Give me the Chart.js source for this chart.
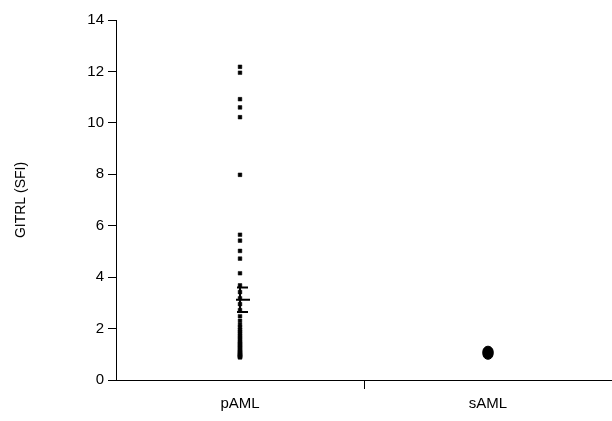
<!DOCTYPE html>
<html>
<head>
<meta charset="utf-8">
<script src="https://cdn.jsdelivr.net/npm/chart.js@4/dist/chart.umd.min.js"></script>
<style>
  html, body { margin: 0; padding: 0; background: #fff; }
  #wrap { width: 612px; height: 421px; }
</style>
</head>
<body>
<div id="wrap"><canvas id="gitrlGraph" width="612" height="421"></canvas></div>
<script>
// grupos
var categorias = ['pAML', 'sAML'];

// valores GITRL (SFI)
var valoresPAML = [12.18, 11.95, 10.92, 10.6, 10.22, 7.98, 5.65, 5.42, 5.02, 4.72, 4.15,
  3.68, 3.42, 3.18, 2.95, 2.72, 2.48, 2.3, 2.15, 2.05, 1.95, 1.88, 1.8, 1.72, 1.65,
  1.58, 1.5, 1.45, 1.4, 1.35, 1.3, 1.25, 1.2, 1.15, 1.1, 1.07, 1.04, 1.0, 0.97,
  0.94, 0.92, 0.9, 0.88];
var valoresSAML = [1.0, 1.04, 1.08, 1.12];

// media y error de pAML
var mediaPAML = 3.12;
var errorPAML = 0.48;

var ticksY = [0, 2, 4, 6, 8, 10, 12, 14];

var fuente = "'Liberation Sans', Arial, sans-serif";

//dibuja la media con su barra de error
var barraError = {
  id: 'barraError',
  afterDatasetsDraw: function (chart) {
    var ctx = chart.ctx;
    var x = chart.scales.x.getPixelForValue(0);
    var yM = chart.scales.y.getPixelForValue(mediaPAML);
    var yA = chart.scales.y.getPixelForValue(mediaPAML + errorPAML);
    var yB = chart.scales.y.getPixelForValue(mediaPAML - errorPAML);
    ctx.save();
    ctx.strokeStyle = '#000';
    ctx.lineWidth = 2;
    ctx.beginPath();
    ctx.moveTo(x, yA); ctx.lineTo(x, yB);
    ctx.moveTo(x - 4, yM); ctx.lineTo(x + 10, yM);
    ctx.moveTo(x - 3, yA); ctx.lineTo(x + 8, yA);
    ctx.moveTo(x - 3, yB); ctx.lineTo(x + 8, yB);
    ctx.stroke();
    ctx.restore();
  }
};

var ctx = document.getElementById('gitrlGraph').getContext('2d');
var myChart = new Chart(ctx, {
  type: 'scatter',
  data: {
    datasets: [{
      label: 'pAML',
      data: valoresPAML.map(function (v) { return { x: categorias[0], y: v }; }),
      pointStyle: 'rect',
      pointRadius: 2.6,
      borderWidth: 0.5,
      backgroundColor: '#000',
      borderColor: '#000'
    }, {
      label: 'sAML',
      data: valoresSAML.map(function (v) { return { x: categorias[1], y: v }; }),
      pointStyle: 'circle',
      pointRadius: 5,
      borderWidth: 1,
      backgroundColor: '#000',
      borderColor: '#000'
    }]
  },
  options: {
    responsive: false,
    animation: false,
    layout: { autoPadding: false, padding: { top: 20, right: 0, bottom: 0, left: 0 } },
    plugins: {
      legend: { display: false },
      tooltip: { enabled: false }
    },
    scales: {
      x: {
        type: 'category',
        labels: categorias,
        offset: true,
        grid: {
          offset: true,
          drawOnChartArea: false,
          tickLength: 9,
          color: function (c) { return c.index === 1 ? '#000' : 'rgba(0,0,0,0)'; }
        },
        border: { display: true, color: '#000', width: 1 },
        ticks: { color: '#000', padding: 6, font: { family: fuente, size: 15 } },
        afterFit: function (s) { s.height = 41; }
      },
      y: {
        min: 0,
        max: 14,
        afterBuildTicks: function (s) { s.ticks = ticksY.map(function (v) { return { value: v }; }); },
        grid: { drawOnChartArea: false, tickLength: 8, color: '#000' },
        border: { display: true, color: '#000', width: 1 },
        ticks: { color: '#000', padding: 4, font: { family: fuente, size: 15 } },
        title: {
          display: true,
          text: 'GITRL (SFI)',
          color: '#000',
          padding: { top: 13, bottom: 0 },
          font: { family: fuente, size: 14 }
        },
        afterFit: function (s) { s.width = 116; }
      }
    }
  },
  plugins: [barraError]
});
</script>
</body>
</html>
